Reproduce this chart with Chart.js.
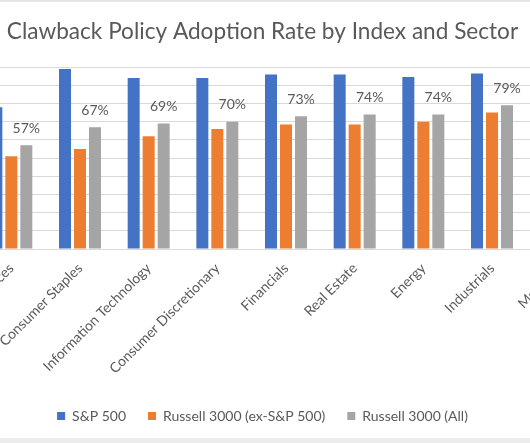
<!DOCTYPE html>
<html>
<head>
<meta charset="utf-8">
<script src="https://cdn.jsdelivr.net/npm/chart.js@4"></script>
<style>
  html, body { margin: 0; padding: 0; background: #fff; overflow: hidden; }
  body { width: 530px; height: 443px; position: relative; }
  #wrap { position: absolute; left: -70px; top: 0; width: 668px; height: 443px; }
  #topLine { position: absolute; left: 0; top: 0; width: 530px; height: 2px; background: #e6e6e6; }
  #bottomStrip { position: absolute; left: 0; top: 438px; width: 530px; height: 5px; background: #ececec; }
</style>
</head>
<body>
<div id="wrap"><canvas id="clawChart" width="668" height="443"></canvas></div>
<div id="topLine"></div>
<div id="bottomStrip"></div>
<script>
// sectors, sorted by Russell 3000 (All) adoption
var sectors = ["Communication Services", "Consumer Staples", "Information Technology", "Consumer Discretionary",
               "Financials", "Real Estate", "Energy", "Industrials", "Materials"];
var sp500 = [78, 99, 94, 94, 96, 96, 94.5, 96.5, 97];
var russellEx = [51, 55, 62, 66, 68.5, 68.5, 70, 75, 77];
var russellAll = [57, 67, 69, 70, 73, 74, 74, 79, 81];
var yTicks = [0, 10, 20, 30, 40, 50, 60, 70, 80, 90, 100];

var textGrey = "#595959";
var fontName = "Lato";

// value labels over the grey bars
var pctLabels = {
  id: "pctLabels",
  afterDatasetsDraw: function (chart) {
    var ctx = chart.ctx;
    var meta = chart.getDatasetMeta(2);
    ctx.save();
    ctx.font = "14px " + fontName;
    ctx.fillStyle = textGrey;
    ctx.textAlign = "center";
    ctx.textBaseline = "middle";
    meta.data.forEach(function (bar, i) {
      ctx.fillText(russellAll[i] + "%", bar.x, bar.y - 17);
    });
    ctx.restore();
  }
};

var barOpts = { categoryPercentage: 0.655, barPercentage: 0.8 };

new Chart(document.getElementById("clawChart"), {
  type: "bar",
  data: {
    labels: sectors,
    datasets: [
      Object.assign({ label: "S&P 500", data: sp500, backgroundColor: "#4472C4" }, barOpts),
      Object.assign({ label: "Russell 3000 (ex-S&P 500)", data: russellEx, backgroundColor: "#ED7D31" }, barOpts),
      Object.assign({ label: "Russell 3000 (All)", data: russellAll, backgroundColor: "#A5A5A5" }, barOpts)
    ]
  },
  options: {
    responsive: false,
    animation: false,
    layout: { padding: { top: 0, right: 3, bottom: 10, left: 0 } },
    plugins: {
      title: {
        display: true,
        text: "Clawback Policy Adoption Rate by Index and Sector",
        color: textGrey,
        font: { family: fontName, size: 22.6, weight: "normal" },
        padding: { top: 18, bottom: 22 }
      },
      legend: {
        position: "bottom",
        labels: {
          boxWidth: 8, boxHeight: 8,
          padding: 22,
          color: textGrey,
          font: { family: fontName, size: 14 }
        }
      },
      tooltip: { enabled: false }
    },
    scales: {
      x: {
        grid: { display: false },
        border: { display: true, color: "#d9d9d9" },
        ticks: {
          color: textGrey,
          font: { family: fontName, size: 14 },
          minRotation: 45, maxRotation: 45, autoSkip: false
        },
        afterFit: function (s) {
          s.height = 138;
          s.paddingLeft = 0;
          s.paddingRight = 0;
        }
      },
      y: {
        min: 0, max: 100,
        afterBuildTicks: function (s) { s.ticks = yTicks.map(function (v) { return { value: v }; }); },
        grid: { color: "#d9d9d9", drawTicks: false },
        border: { display: false },
        ticks: { display: false },
        afterFit: function (s) { s.width = 47; }
      }
    }
  },
  plugins: [pctLabels]
});
</script>
</body>
</html>
